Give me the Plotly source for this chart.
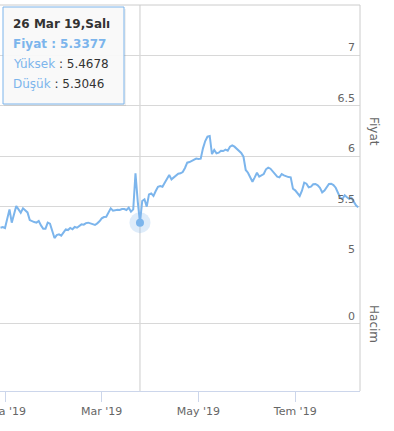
import plotly.graph_objects as go
import pandas as pd

# ---------------- data ----------------
start_date = "2018-12-28"
prices = [
    5.288, 5.295, 5.285, 5.364, 5.470, 5.338, 5.414, 5.503, 5.470, 5.437,
    5.480, 5.464, 5.440, 5.364, 5.351, 5.344, 5.338, 5.354, 5.311, 5.278,
    5.278, 5.338, 5.328, 5.265, 5.185, 5.215, 5.222, 5.209, 5.245, 5.272,
    5.265, 5.285, 5.272, 5.295, 5.288, 5.301, 5.321, 5.318, 5.334, 5.338,
    5.331, 5.325, 5.315, 5.331, 5.351, 5.381, 5.394, 5.397, 5.434, 5.480,
    5.457, 5.464, 5.467, 5.464, 5.474, 5.474, 5.464, 5.487, 5.447, 5.470,
    5.828, 5.550, 5.3377, 5.553, 5.570, 5.497, 5.619, 5.629, 5.603, 5.652,
    5.695, 5.702, 5.695, 5.735, 5.768, 5.811, 5.768, 5.788, 5.811, 5.825,
    5.828, 5.841, 5.881, 5.934, 5.940, 5.950, 5.967, 5.974, 5.970, 5.974,
    6.076, 6.149, 6.192, 6.199, 6.020, 6.060, 6.026, 6.033, 6.053, 6.050,
    6.063, 6.053, 6.093, 6.106, 6.093, 6.073, 6.053, 6.030, 5.993, 5.861,
    5.834, 5.788, 5.745, 5.788, 5.834, 5.795, 5.808, 5.821, 5.868, 5.884,
    5.874, 5.848, 5.815, 5.795, 5.788, 5.821, 5.808, 5.798, 5.791, 5.788,
    5.675, 5.659, 5.636, 5.603, 5.656, 5.735, 5.725, 5.689, 5.695, 5.719,
    5.722, 5.709, 5.685, 5.639, 5.656, 5.685, 5.722, 5.725, 5.712, 5.685,
    5.636, 5.586, 5.573, 5.610, 5.590, 5.575, 5.585, 5.540, 5.510, 5.490,
]
dates = pd.bdate_range(start_date, periods=len(prices))

x_tick_dates = ["2019-01-01", "2019-03-01", "2019-05-01", "2019-07-01"]
x_tick_labels = ["Oca '19", "Mar '19", "May '19", "Tem '19"]
x_range = ["2018-12-27 18:40", "2019-08-08 19:10"]
price_ticks = [5, 5.5, 6, 6.5, 7]
price_range = [5, 7.5]
volume_ticks = [0]
volume_range = [-1, 1]

hover_date = "2019-03-26"
hover_title = "26 Mar 19,Salı"
hover_high = 5.4678
hover_low = 5.3046

hi = list(dates).index(pd.Timestamp(hover_date))
hover_price = prices[hi]

# ---------------- style ----------------
LINE = "#7cb5ec"
GRID = "#d8d8d8"
BORDER = "#cccccc"
AXIS = "#ccd6eb"
LABEL = "#666666"
FONT = "DejaVu Sans"

W, H = 394, 431
ML, MR, MT, MB = 0, 34, 5, 40
PW, PH = W - ML - MR, H - MT - MB
split = (PH - (256.7 - MT)) / PH  # boundary between panes (paper)


def px_x(px):
    return (px - ML) / PW


def px_y(py):
    return (H - MB - py) / PH


fig = go.Figure()
fig.add_trace(go.Scatter(
    x=dates, y=prices, mode="lines", xaxis="x", yaxis="y",
    line=dict(color=LINE, width=2), hoverinfo="skip", showlegend=False,
))
# empty volume pane ("Hacim") – no volume values in the source
fig.add_trace(go.Scatter(
    x=[], y=[], mode="lines", xaxis="x", yaxis="y2",
    hoverinfo="skip", showlegend=False,
))
# hover halo + marker
fig.add_trace(go.Scatter(
    x=[dates[hi]], y=[hover_price], mode="markers", xaxis="x", yaxis="y",
    marker=dict(size=21, color="rgba(124,181,236,0.25)"),
    hoverinfo="skip", showlegend=False,
))
fig.add_trace(go.Scatter(
    x=[dates[hi]], y=[hover_price], mode="markers", xaxis="x", yaxis="y",
    marker=dict(size=8, color=LINE),
    hoverinfo="skip", showlegend=False,
))

shapes = [
    # plot border top & right
    dict(type="line", xref="paper", yref="paper", x0=0, x1=1, y0=1, y1=1,
         line=dict(color=BORDER, width=1)),
    dict(type="line", xref="paper", yref="paper", x0=1, x1=1, y0=0, y1=1,
         line=dict(color=BORDER, width=1)),
    # crosshair
    dict(type="line", xref="x", yref="paper", x0=dates[hi], x1=dates[hi], y0=0, y1=1,
         line=dict(color=BORDER, width=1), layer="below"),
    # tooltip shadow & box
    dict(type="rect", xref="paper", yref="paper",
         x0=px_x(4), x1=px_x(126), y0=px_y(106), y1=px_y(9),
         fillcolor="rgba(0,0,0,0.06)", line=dict(width=0)),
    dict(type="rect", xref="paper", yref="paper",
         x0=px_x(3), x1=px_x(124), y0=px_y(104), y1=px_y(7),
         fillcolor="rgba(249,249,249,0.95)", line=dict(color=LINE, width=1)),
]

annotations = []
tip_lines = [
    f"<b>{hover_title}</b>",
    f"<span style='color:{LINE}'><b>Fiyat : {hover_price:.4f}</b></span>",
    f"<span style='color:{LINE}'>Yüksek</span> : {hover_high:.4f}",
    f"<span style='color:{LINE}'>Düşük</span> : {hover_low:.4f}",
]
for i, t in enumerate(tip_lines):
    annotations.append(dict(
        xref="paper", yref="paper", x=px_x(11), y=px_y(24 + 20 * i),
        xanchor="left", yanchor="middle", text=t, showarrow=False,
        font=dict(family=FONT, size=12, color="#333333"),
    ))
annotations.append(dict(xref="paper", yref="paper", x=px_x(374), y=px_y(131),
                        xanchor="center", yanchor="middle",
                        text="Fiyat", textangle=90, showarrow=False,
                        font=dict(family=FONT, size=12, color=LABEL)))
annotations.append(dict(xref="paper", yref="paper", x=px_x(374), y=px_y(324),
                        xanchor="center", yanchor="middle",
                        text="Hacim", textangle=90, showarrow=False,
                        font=dict(family=FONT, size=12, color=LABEL)))

fig.update_layout(
    template="none",
    width=W, height=H,
    margin=dict(l=ML, r=MR, t=MT, b=MB, pad=0),
    paper_bgcolor="white", plot_bgcolor="white",
    font=dict(family=FONT, size=11, color=LABEL),
    hovermode=False,
    shapes=shapes,
    annotations=annotations,
    xaxis=dict(
        type="date", anchor="y2", domain=[0, 1], range=x_range,
        rangebreaks=[dict(bounds=["sat", "mon"])],
        tickvals=x_tick_dates, ticktext=x_tick_labels,
        ticks="outside", ticklen=10, tickcolor=AXIS, tickwidth=1,
        showline=True, linecolor=AXIS, linewidth=1,
        showgrid=False, zeroline=False, automargin=False,
        ticklabeloverflow="allow",
        tickfont=dict(family=FONT, size=11, color=LABEL),
    ),
    yaxis=dict(
        domain=[split, 1], range=price_range, anchor="x", side="right",
        tickvals=price_ticks, ticktext=[str(v) for v in price_ticks],
        ticklabelposition="inside top", ticks="", ticklabelstandoff=2,
        showgrid=True, gridcolor=GRID, gridwidth=1, zeroline=False,
        showline=False, automargin=False,
        tickfont=dict(family=FONT, size=11, color=LABEL),
    ),
    yaxis2=dict(
        domain=[0, split], range=volume_range, anchor="x", side="right",
        tickvals=volume_ticks, ticktext=["0"],
        ticklabelposition="inside top", ticks="", ticklabelstandoff=2,
        showgrid=True, gridcolor=GRID, gridwidth=1, zeroline=False,
        showline=False, automargin=False,
        tickfont=dict(family=FONT, size=11, color=LABEL),
    ),
)

fig.write_html("out.html", config={"displayModeBar": False},
               post_script="document.body.style.margin='0';")
